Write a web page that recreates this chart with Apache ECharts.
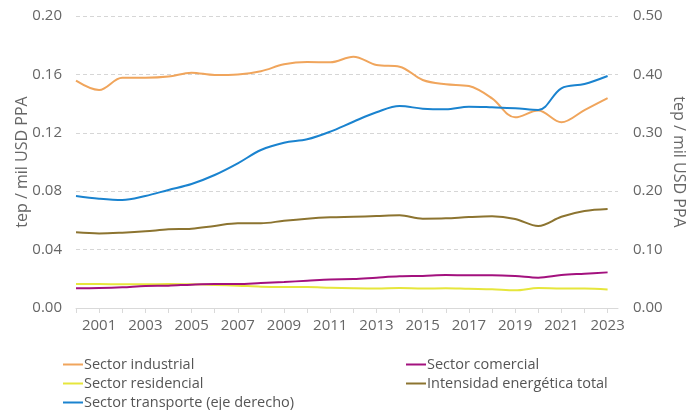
<!DOCTYPE html>
<html>
<head>
<meta charset="utf-8">
<script src="https://cdn.jsdelivr.net/npm/echarts@6/dist/echarts.min.js"></script>
<style>html,body{margin:0;padding:0;background:#fff}#c{width:693px;height:410px}</style>
</head>
<body>
<div id="c"></div>
<script>
var years = [2000,2001,2002,2003,2004,2005,2006,2007,2008,2009,2010,2011,2012,2013,2014,2015,2016,2017,2018,2019,2020,2021,2022,2023];
var industrial = [0.1557,0.1493,0.1577,0.1577,0.1585,0.1612,0.1596,0.1600,0.1622,0.1669,0.1685,0.1683,0.1721,0.1664,0.1653,0.1562,0.1532,0.1520,0.1436,0.1306,0.1352,0.1272,0.1356,0.1438];
var residencial = [0.0164,0.0164,0.0162,0.0162,0.0164,0.0162,0.0158,0.0153,0.0146,0.0144,0.0144,0.0139,0.0135,0.0133,0.0137,0.0133,0.0135,0.0131,0.0128,0.0121,0.0137,0.0133,0.0133,0.0126];
var transporte = [0.1918,0.1872,0.1849,0.1918,0.2021,0.2123,0.2277,0.2477,0.2705,0.2830,0.2888,0.3019,0.3190,0.3351,0.3459,0.3413,0.3402,0.3447,0.3436,0.3420,0.3390,0.3762,0.3836,0.3973];
var comercial = [0.0135,0.0137,0.0142,0.0151,0.0153,0.0160,0.0164,0.0164,0.0171,0.0178,0.0187,0.0196,0.0198,0.0208,0.0217,0.0220,0.0226,0.0224,0.0224,0.0219,0.0208,0.0226,0.0235,0.0244];
var total = [0.0518,0.0511,0.0516,0.0525,0.0539,0.0543,0.0562,0.0580,0.0580,0.0598,0.0612,0.0621,0.0625,0.0630,0.0635,0.0612,0.0614,0.0623,0.0628,0.0610,0.0562,0.0625,0.0664,0.0678];
var leftTicks = [0,0.04,0.08,0.12,0.16,0.20];
var rightTicks = [0,0.1,0.2,0.3,0.4,0.5];
var axisName = 'tep / mil USD PPA';
var names = ['Sector industrial','Sector residencial','Sector transporte (eje derecho)','Sector comercial','Intensidad energética total'];

function pairs(arr){ return years.map(function(y,i){ return [y, arr[i]]; }); }

var FONT = 'Open Sans';
var chart = echarts.init(document.getElementById('c'));
var lineIcon = 'path://M0,0 L20,0 L20,2 L0,2 Z';
function mk(name, data, color, yIdx){
  return {type:'line', smooth:0.35, showSymbol:false, symbol:'none', name:name, data:pairs(data), yAxisIndex:yIdx, color:color, lineStyle:{width:2, color:color}};
}
var legendText = {fontFamily:FONT, fontSize:14.5, color:'#555', lineHeight:19, padding:[0,0,0,-4]};
chart.setOption({
  animation:false,
  textStyle:{fontFamily:FONT},
  grid:{left:76, right:75, top:16, bottom:102, containLabel:false, outerBoundsMode:'none'},
  legend:[
    {orient:'vertical', left:63, top:355, height:60, padding:0, itemWidth:20, itemHeight:2, itemGap:0, icon:lineIcon,
     data:[names[0],names[1],names[2]], textStyle:legendText},
    {orient:'vertical', left:406, top:355, height:60, padding:0, itemWidth:20, itemHeight:2, itemGap:0, icon:lineIcon,
     data:[names[3],names[4]], textStyle:legendText}
  ],
  xAxis:{
    type:'value', min:2000, max:2023.45, interval:1,
    axisLine:{show:true, lineStyle:{color:'#d9d9d9', width:1}},
    axisTick:{show:true, length:5, lineStyle:{color:'#d9d9d9'}},
    splitLine:{show:false},
    axisLabel:{color:'#666', fontSize:15, fontFamily:FONT, margin:10, showMaxLabel:false,
      formatter:function(v){ return (v % 2 === 1 && v<=2023) ? String(v) : ''; }}
  },
  yAxis:[
    {type:'value', min:leftTicks[0], max:leftTicks[leftTicks.length-1], interval:0.04,
     name:axisName, nameLocation:'middle', nameGap:46, nameRotate:90, nameMoveOverlap:false,
     nameTextStyle:{color:'#666', fontSize:16, fontFamily:FONT},
     axisLine:{show:false}, axisTick:{show:false},
     axisLabel:{color:'#666', fontSize:15, fontFamily:FONT, margin:14, formatter:function(v){return v.toFixed(2);}},
     splitLine:{show:true, lineStyle:{color:'#d6d6d6', type:[4,3], width:1}}},
    {type:'value', min:rightTicks[0], max:rightTicks[rightTicks.length-1], interval:0.1, position:'right',
     name:axisName, nameLocation:'middle', nameGap:53, nameRotate:-90, nameMoveOverlap:false,
     nameTextStyle:{color:'#666', fontSize:16, fontFamily:FONT},
     axisLine:{show:false}, axisTick:{show:false},
     axisLabel:{color:'#666', fontSize:15, fontFamily:FONT, margin:15, formatter:function(v){return v.toFixed(2);}},
     splitLine:{show:false}}
  ],
  series:[
    mk(names[0], industrial, '#f0a55c', 0),
    mk(names[1], residencial, '#e6e63c', 0),
    mk(names[2], transporte, '#1a83cf', 1),
    mk(names[3], comercial, '#a3117e', 0),
    mk(names[4], total, '#8c7430', 0)
  ]
});
</script>
</body>
</html>
